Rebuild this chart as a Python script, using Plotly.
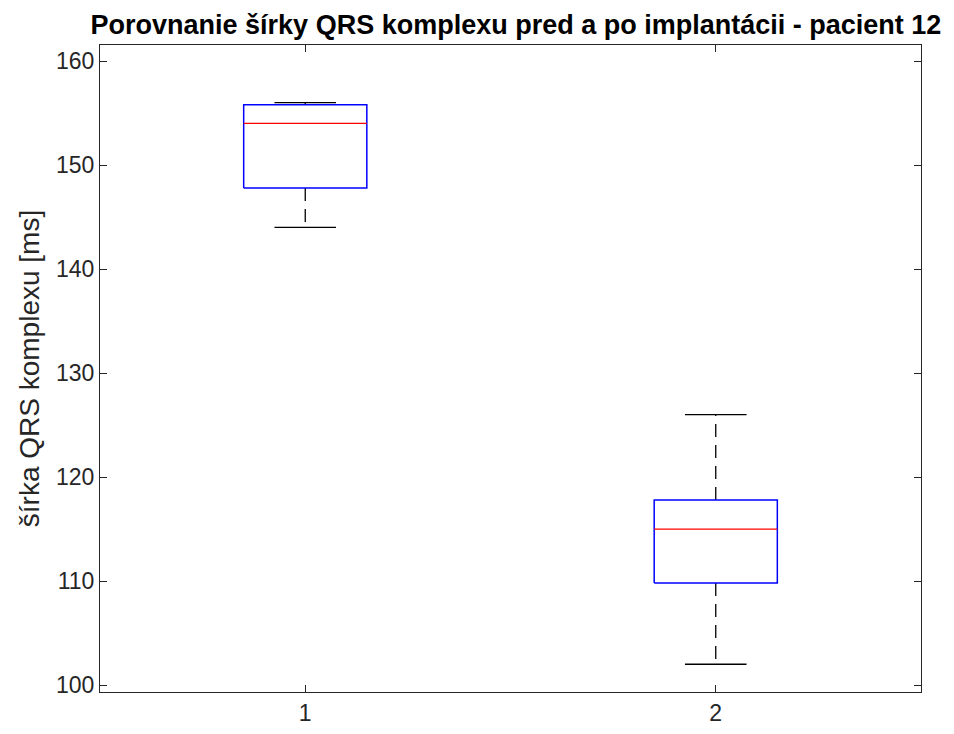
import plotly.graph_objects as go

# Boxplot summary statistics of QRS width [ms] for each recording group
groups = [1, 2]
q1 = [147.8, 109.8]
median = [154.0, 115.0]
q3 = [155.8, 117.8]
whisker_low = [144.0, 102.0]
whisker_high = [156.0, 126.0]

y_ticks = [100, 110, 120, 130, 140, 150, 160]

BOX_HALF = 0.15
CAP_HALF = 0.075
FONT = "Liberation Sans, Arial, sans-serif"

fig = go.Figure()

for i, g in enumerate(groups):
    # whiskers (dashed) from box edges to caps
    fig.add_trace(go.Scatter(
        x=[g, g, None, g, g],
        y=[q3[i], whisker_high[i], None, q1[i], whisker_low[i]],
        mode="lines", line=dict(color="black", width=1.3, dash="13px,8px"),
        hoverinfo="skip", showlegend=False))
    # whisker caps
    fig.add_trace(go.Scatter(
        x=[g - CAP_HALF, g + CAP_HALF, None, g - CAP_HALF, g + CAP_HALF],
        y=[whisker_high[i], whisker_high[i], None, whisker_low[i], whisker_low[i]],
        mode="lines", line=dict(color="black", width=1.3),
        hoverinfo="skip", showlegend=False))
    # box outline
    fig.add_trace(go.Scatter(
        x=[g - BOX_HALF, g + BOX_HALF, g + BOX_HALF, g - BOX_HALF, g - BOX_HALF],
        y=[q1[i], q1[i], q3[i], q3[i], q1[i]],
        mode="lines", line=dict(color="#0000ff", width=1.5),
        hoverinfo="skip", showlegend=False))
    # median
    fig.add_trace(go.Scatter(
        x=[g - BOX_HALF, g + BOX_HALF],
        y=[median[i], median[i]],
        mode="lines", line=dict(color="#ff0000", width=1.3),
        hoverinfo="skip", showlegend=False))

axis_common = dict(
    showgrid=False, zeroline=False,
    showline=True, linecolor="#262626", linewidth=1,
    ticks="inside", ticklen=7, tickcolor="#262626", tickwidth=1,
    mirror="ticks",
    tickfont=dict(family=FONT, size=23, color="#262626"),
)

fig.update_layout(
    width=954, height=734,
    paper_bgcolor="white", plot_bgcolor="white",
    margin=dict(l=100, r=33, t=45, b=42),
    title=dict(
        text="<b>Porovnanie šírky QRS komplexu pred a po implantácii - pacient 12</b>",
        font=dict(family=FONT, size=27, color="black"),
        x=0.5408, xanchor="center", y=0.966, yanchor="middle"),
    xaxis=dict(range=[0.5, 2.5], tickvals=groups, ticktext=[str(g) for g in groups],
               automargin=False, **axis_common),
    yaxis=dict(range=[99.33, 161.54], tickvals=y_ticks, automargin=False,
               title=dict(text="šírka QRS komplexu [ms]",
                          font=dict(family=FONT, size=28, color="#262626"),
                          standoff=8),
               **axis_common),
)

fig.write_html("out.html")
